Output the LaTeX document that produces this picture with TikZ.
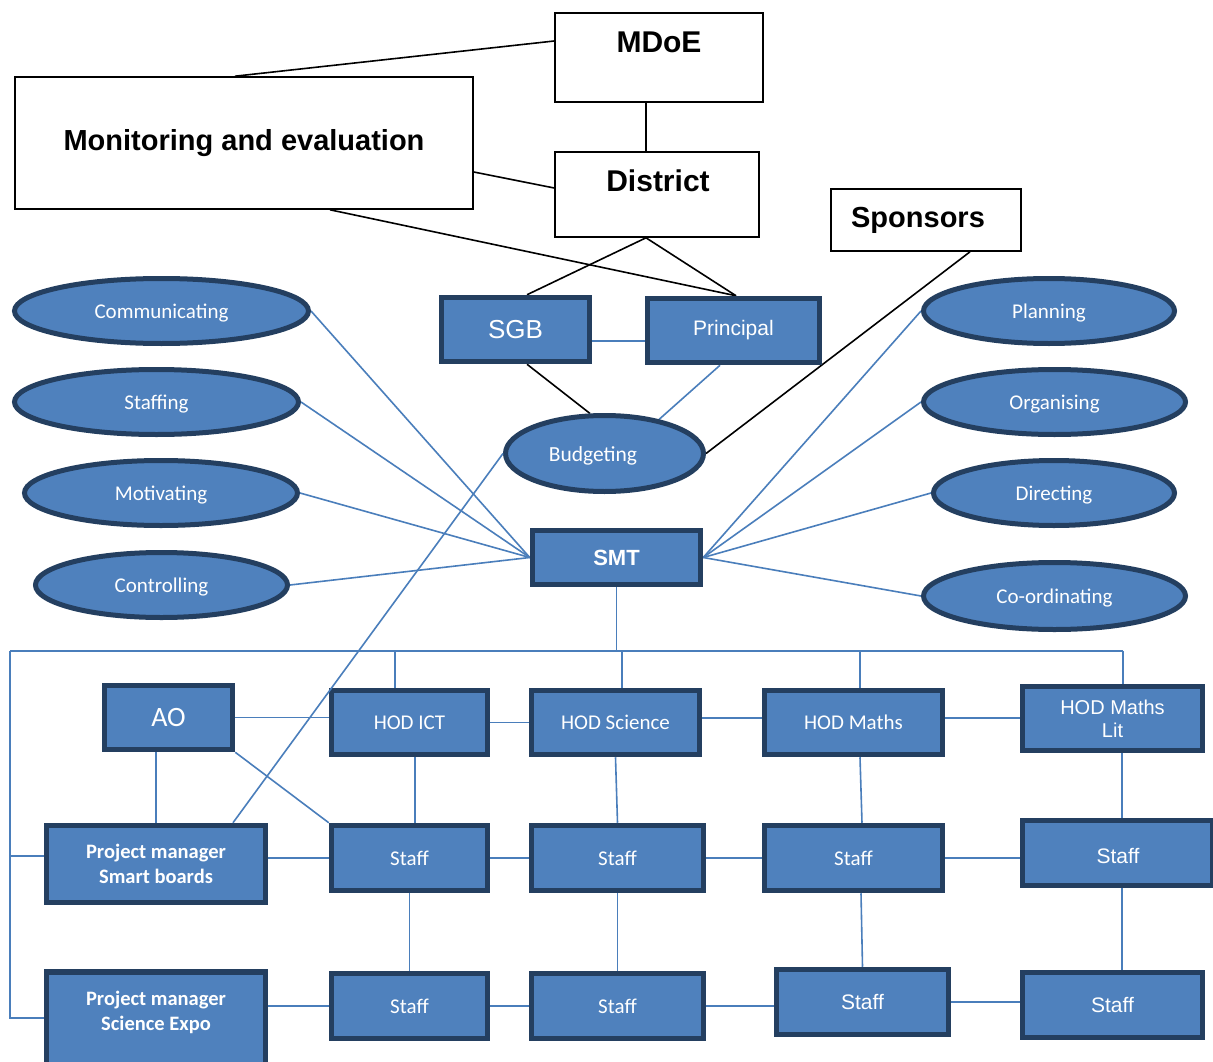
\documentclass[tikz,border=0pt]{standalone}
\usepackage{fontspec}
\setmainfont{Liberation Sans}
\newfontfamily\calib{Carlito}
\usetikzlibrary{shapes.geometric,backgrounds}
\definecolor{boxblue}{HTML}{4F81BD}
\definecolor{boxedge}{HTML}{243F60}
\definecolor{linkblue}{HTML}{4A7EBB}
\begin{document}
\begin{tikzpicture}[x=1pt,y=-1pt,
 topbox/.style={draw=black,line width=1.6pt,fill=white,inner sep=0pt},
 toptext/.style={font=\bfseries\fontsize{30}{34}\selectfont,inner sep=0pt},
 bbox/.style={draw=boxedge,fill=boxblue,line width=5.5pt,text=white,inner sep=0pt,align=center},
 oval/.style={ellipse,draw=boxedge,fill=boxblue,line width=5pt,text=white,inner sep=0pt,text depth=0pt,font=\calib\fontsize{21}{25}\selectfont},
 blk/.style={draw=black,line width=1.6pt},
 blu/.style={draw=linkblue,line width=1.6pt},
 cal/.style={font=\calib\fontsize{21}{25}\selectfont},
 calb/.style={font=\calib\bfseries\fontsize{20.5}{25}\selectfont},
 ari/.style={font=\fontsize{20}{23}\selectfont}]
\useasboundingbox (0,0) rectangle (1213,1062);

% top white boxes
\node[topbox,minimum width=208pt,minimum height=89pt] (mdoe) at (659,57.5) {};
\node[toptext] (mdoeT) at (659,42) {MDoE};
\node[topbox,minimum width=458pt,minimum height=132pt,font=\bfseries\fontsize{29}{33}\selectfont] (mon) at (244,143) {Monitoring and evaluation};
\node[topbox,minimum width=204pt,minimum height=85pt] (district) at (657,194.5) {};
\node[toptext] (districtT) at (658,181) {District};
\node[topbox,minimum width=190pt,minimum height=62pt] (sponsors) at (926,220) {};
\node[toptext,font=\bfseries\fontsize{29}{33}\selectfont] (sponsorsT) at (918,220) {Sponsors};

% SGB, Principal, Budgeting, SMT
\node[bbox,minimum width=148pt,minimum height=64pt,font=\fontsize{26}{30}\selectfont] (sgb) at (515.5,329.5) {SGB};
\node[bbox,minimum width=172pt,minimum height=64pt,font=\fontsize{21}{25}\selectfont] (principal) at (733.5,330.5) {Principal};
\node[oval,minimum width=198pt,minimum height=76pt] (budget) at (604.5,453.5) {};
\node[font=\calib\fontsize{21.5}{25}\selectfont,text=white,text depth=0pt,inner sep=0pt] (budgetT) at (593,454) {Budgeting};
\node[bbox,minimum width=168pt,minimum height=54pt,font=\bfseries\fontsize{22}{26}\selectfont] (smt) at (616.5,557.5) {SMT};

% functions
\node[oval,minimum width=294pt,minimum height=65pt] (comm) at (161.5,311) {Communicating};
\node[oval,minimum width=284pt,minimum height=65pt] (staffing) at (156.5,402) {Staffing};
\node[oval,minimum width=273pt,minimum height=65pt] (motiv) at (161,493) {Motivating};
\node[oval,minimum width=252pt,minimum height=65pt] (control) at (161.5,585) {Controlling};
\node[oval,minimum width=251pt,minimum height=65pt] (plan) at (1049,311) {Planning};
\node[oval,minimum width=262pt,minimum height=65pt] (organ) at (1054.5,402) {Organising};
\node[oval,minimum width=241pt,minimum height=65pt] (direct) at (1054,493) {Directing};
\node[oval,minimum width=262pt,minimum height=67pt] (coord) at (1054.5,596) {Co-ordinating};

% HODs
\node[bbox,minimum width=128pt,minimum height=64pt,font=\calib\fontsize{28}{32}\selectfont] (ao) at (168.5,717.5) {AO};
\node[bbox,cal,minimum width=156pt,minimum height=64pt] (hodict) at (409.5,722.5) {HOD ICT};
\node[bbox,cal,minimum width=168pt,minimum height=64pt] (hodsci) at (615.5,722.5) {HOD Science};
\node[bbox,cal,minimum width=178pt,minimum height=64pt] (hodmaths) at (853.5,722.5) {HOD Maths};
\node[bbox,ari,minimum width=180pt,minimum height=64pt] (hodlit) at (1112.5,718.5) {HOD Maths\\Lit};

% second row
\node[bbox,calb,minimum width=219pt,minimum height=77pt] (pmsmart) at (156,864) {Project manager\\Smart boards};
\node[bbox,cal,minimum width=156pt,minimum height=65pt] (s1) at (409.5,858) {Staff};
\node[bbox,cal,minimum width=172pt,minimum height=65pt] (s2) at (617.5,858) {Staff};
\node[bbox,cal,minimum width=178pt,minimum height=65pt] (s3) at (853.5,858) {Staff};
\node[bbox,minimum width=190pt,minimum height=65pt] (s4) at (1117.5,853) {};
\node[ari,text=white,font=\fontsize{21}{25}\selectfont] (s4T) at (1118,856) {Staff};

% third row
\node[bbox,minimum width=219pt,minimum height=100pt] (pmsci) at (156,1022) {};
\node[calb,text=white,align=center] (pmsciT) at (156,1012) {Project manager\\Science Expo};
\node[bbox,cal,minimum width=156pt,minimum height=65pt] (t1) at (409.5,1006) {Staff};
\node[bbox,cal,minimum width=172pt,minimum height=65pt] (t2) at (617.5,1006) {Staff};
\node[bbox,minimum width=172pt,minimum height=65pt,font=\fontsize{21}{25}\selectfont] (t3) at (862.5,1002) {Staff};
\node[bbox,minimum width=180pt,minimum height=65pt,font=\fontsize{21}{25}\selectfont] (t4) at (1112.5,1005) {Staff};

% bus coordinates
\coordinate (busL) at (10,651);
\coordinate (busR) at (1123,651);
\coordinate (d1) at (395,651);
\coordinate (d2) at (622,651);
\coordinate (d3) at (860,651);

\begin{scope}[on background layer]
\fill[white] (0,0) rectangle (1213,1062);
% black connectors
\draw[blk] ([xshift=-9pt]mon.north) -- ([yshift=16.5pt]mdoe.west);
\draw[blk] ([xshift=-13pt]mdoe.south) -- ([xshift=-11pt]district.north);
\draw[blk] ([yshift=-29pt]mon.east) -- ([yshift=6.5pt]district.west);
\draw[blk] ([xshift=86pt]mon.south) -- ([xshift=2.5pt]principal.north);
\draw[blk] ([xshift=-11pt]district.south) -- ([xshift=11.5pt]sgb.north);
\draw[blk] ([xshift=-11pt]district.south) -- ([xshift=2.5pt]principal.north);
\draw[blk] ([xshift=44pt]sponsors.south) -- (budget.east);
\draw[blk] ([xshift=11.5pt]sgb.south) -- (budget.110);
% blue connectors
\draw[blu] ([yshift=-11.5pt]sgb.east) -- ([yshift=-11.5pt]sgb.east -| principal.west);
\draw[blu] ([xshift=-13.5pt]principal.south) -- (budget.32);
\draw[blu] (comm.east) -- (smt.west);
\draw[blu] (staffing.east) -- (smt.west);
\draw[blu] (motiv.east) -- (smt.west);
\draw[blu] (control.east) -- (smt.west);
\draw[blu] (plan.west) -- (smt.east);
\draw[blu] (organ.west) -- (smt.east);
\draw[blu] (direct.west) -- (smt.east);
\draw[blu] (coord.west) -- (smt.east);
\draw[blu] (smt.south) -- (smt.south |- busL);
\draw[blu] (busL) -- (busR);
\draw[blu] (d1) -- (d1 |- hodict.north);
\draw[blu] (d2) -- (d2 |- hodsci.north);
\draw[blu] (d3) -- (d3 |- hodmaths.north);
\draw[blu] (busR) -- (busR |- hodlit.north);
\draw[blu] (busL) |- ([yshift=8pt]pmsmart.west);
\draw[blu] (busL) |- ([yshift=4pt]pmsci.west);
% row links
\draw[blu] (ao.east) -- (ao.east -| hodict.west);
\draw[blu] (hodict.east) -- (hodsci.west);
\draw[blu] ([yshift=4.5pt]hodsci.east) -- ([yshift=4.5pt]hodmaths.west);
\draw[blu] ([yshift=4.5pt]hodmaths.east) -- ([yshift=4.5pt]hodmaths.east -| hodlit.west);
\draw[blu] ([xshift=-12.5pt]ao.south) -- (pmsmart.north);
\draw[blu] (ao.south east) -- (s1.north west);
\draw[blu] ([xshift=5.5pt]hodict.south) -- ([xshift=5.5pt]s1.north);
\draw[blu] (hodsci.south) -- (s2.north);
\draw[blu] ([xshift=6.5pt]hodmaths.south) -- ([xshift=8.5pt]s3.north);
\draw[blu] ([xshift=9.5pt]hodlit.south) -- ([xshift=4.5pt]s4.north);
\draw[blu] (pmsmart.east |- s1.west) -- (s1.west);
\draw[blu] (s1.east) -- (s2.west);
\draw[blu] (s2.east) -- (s3.west);
\draw[blu] (s3.east) -- (s3.east -| s4.west);
\draw[blu] (s1.south) -- (t1.north);
\draw[blu] (s2.south) -- (t2.north);
\draw[blu] ([xshift=7.5pt]s3.south) -- (t3.north);
\draw[blu] ([xshift=4.5pt]s4.south) -- ([xshift=9.5pt]t4.north);
\draw[blu] (pmsci.east |- t1.west) -- (t1.west);
\draw[blu] (t1.east) -- (t2.west);
\draw[blu] (t2.east) -- (t2.east -| t3.west);
\draw[blu] (t3.east) -- (t3.east -| t4.west);
\end{scope}
\draw[blu] (budget.west) -- ([xshift=77pt]pmsmart.north);
\end{tikzpicture}
\end{document}
